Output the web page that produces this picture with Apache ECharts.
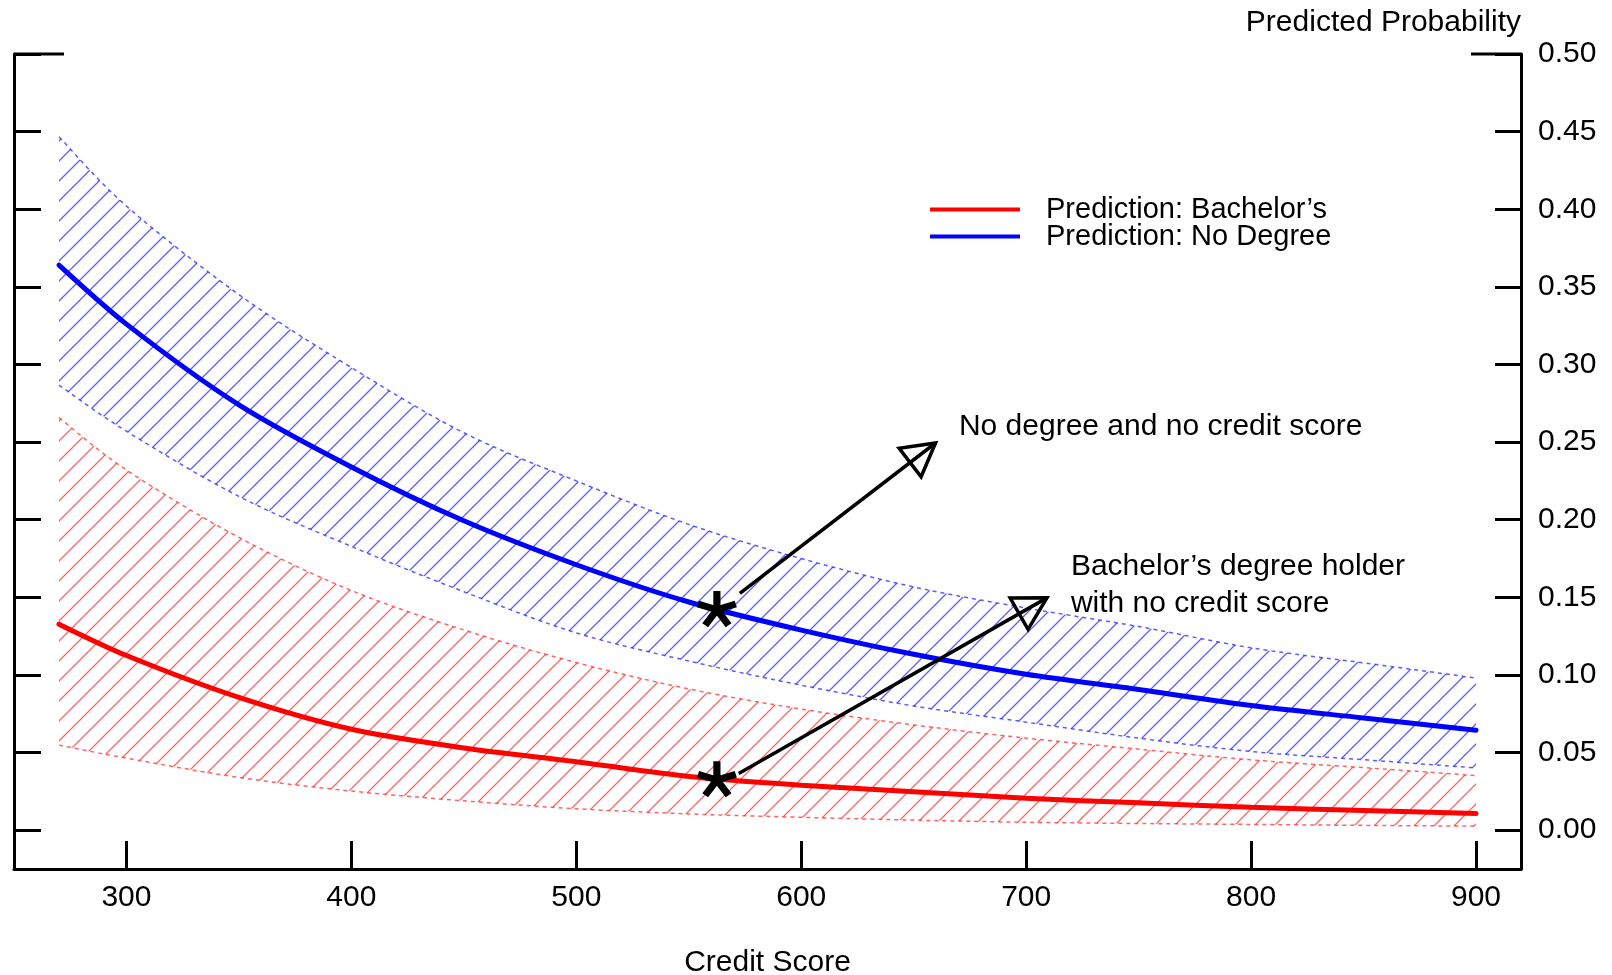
<!DOCTYPE html>
<html><head><meta charset="utf-8">
<script src="https://cdn.jsdelivr.net/npm/echarts@6/dist/echarts.min.js"></script>
<style>html,body{margin:0;padding:0;background:#fff}#c{width:1612px;height:975px}</style>
</head><body><div id="c"></div>
<script>
// ---------- data ----------
const creditScore      = [270, 300, 350, 400, 450, 500, 550, 600, 650, 700, 750, 800, 850, 900];
const noDegree         = [0.364, 0.326, 0.274, 0.234, 0.1993, 0.171, 0.147, 0.1289, 0.1133, 0.1004, 0.0906, 0.0803, 0.0723, 0.0644];
const noDegreeUpper    = [0.4467, 0.402, 0.345, 0.298, 0.256, 0.225, 0.197, 0.175, 0.1567, 0.1431, 0.1312, 0.1175, 0.1078, 0.098];
const noDegreeLower    = [0.2867, 0.257, 0.215, 0.1828, 0.1536, 0.1271, 0.109, 0.0934, 0.080, 0.0696, 0.0593, 0.0507, 0.0454, 0.0401];
const bachelors        = [0.1327, 0.1125, 0.0855, 0.065, 0.053, 0.0441, 0.0346, 0.029, 0.0248, 0.0206, 0.0176, 0.0147, 0.0127, 0.0107];
const bachelorsUpper   = [0.2658, 0.232, 0.1886, 0.1544, 0.129, 0.108, 0.091, 0.078, 0.0678, 0.0593, 0.0522, 0.0453, 0.0403, 0.0352];
const bachelorsLower   = [0.0548, 0.0464, 0.034, 0.0252, 0.0189, 0.0138, 0.0105, 0.0083, 0.0065, 0.0051, 0.0043, 0.0037, 0.0031, 0.0026];

const xTicks = [300, 400, 500, 600, 700, 800, 900];
const yTicks = [0, 0.05, 0.10, 0.15, 0.20, 0.25, 0.30, 0.35, 0.40, 0.45, 0.50];

const starX = [562.5, 562.5];
const starY = [0.1418, 0.0322];
const arrowFrom = [[572.7, 0.1525], [572.2, 0.0365]];
const arrowTo   = [[660.4, 0.2502], [710.0, 0.1503]];
const noteText = ['No degree and no credit score', 'Bachelor’s degree holder\nwith no credit score'];
const noteX = [670.1, 719.9];
const noteY = [0.260, 0.158];

const NAME_B = 'Prediction: Bachelor’s';
const NAME_N = 'Prediction: No Degree';
// ---------------------------

const FONT = '"Liberation Sans", Arial, Helvetica, sans-serif';
const BLUE_H = 'rgba(30,30,255,0.72)';
const RED_H = 'rgba(255,40,40,0.72)';

function hatch(color) {
  const S = 20;
  const c = document.createElement('canvas');
  c.width = S; c.height = S;
  const g = c.getContext('2d');
  g.strokeStyle = color; g.lineWidth = 1.3;
  g.beginPath();
  g.moveTo(0, S); g.lineTo(S, 0);
  g.moveTo(-3, 3); g.lineTo(3, -3);
  g.moveTo(S - 3, S + 3); g.lineTo(S + 3, S - 3);
  g.stroke();
  return c;
}
const HATCH = [hatch(BLUE_H), hatch(RED_H)];
const BANDS = [
  {upper: noDegreeUpper, lower: noDegreeLower, color: BLUE_H},
  {upper: bachelorsUpper, lower: bachelorsLower, color: RED_H}
];

function pts(arr) { return creditScore.map((c, i) => [c, arr[i]]); }

function spline(P) {
  const out = [], n = P.length, steps = 12;
  for (let i = 0; i < n - 1; i++) {
    const p0 = P[Math.max(i - 1, 0)], p1 = P[i], p2 = P[i + 1], p3 = P[Math.min(i + 2, n - 1)];
    for (let s = 0; s < steps; s++) {
      const t = s / steps, t2 = t * t, t3 = t2 * t;
      out.push([0, 1].map(k => 0.5 * (2 * p1[k] + (-p0[k] + p2[k]) * t +
        (2 * p0[k] - 5 * p1[k] + 4 * p2[k] - p3[k]) * t2 + (-p0[k] + 3 * p1[k] - 3 * p2[k] + p3[k]) * t3)));
    }
  }
  out.push(P[n - 1]);
  return out;
}

function asterisk() {
  const L = 18, w = 6.5; let d = '';
  for (let k = 0; k < 5; k++) {
    const a = (-90 + 72 * k) * Math.PI / 180;
    const ux = Math.cos(a), uy = Math.sin(a);
    const px = -uy * w / 2, py = ux * w / 2;
    const p = [[px, py], [ux * L + px, uy * L + py], [ux * L - px, uy * L - py], [-px, -py]];
    d += 'M ' + p.map(q => q[0].toFixed(2) + ' ' + q[1].toFixed(2)).join(' L ') + ' Z ';
  }
  return 'path://' + d;
}

const chart = echarts.init(document.getElementById('c'), null, {renderer: 'canvas'});

const option = {
  animation: false,
  backgroundColor: '#fff',
  textStyle: {fontFamily: FONT},
  grid: {left: 14, right: 91, top: 54, bottom: 106, containLabel: false, outerBoundsMode: 'none'},
  legend: {
    data: [NAME_B, NAME_N],
    orient: 'vertical', left: 930, top: 195, padding: 0,
    itemWidth: 90, itemHeight: 4, itemGap: -2, icon: 'rect',
    textStyle: {fontSize: 29, color: '#000', fontFamily: FONT, padding: [0, 0, 0, 21]},
    selectedMode: false
  },
  xAxis: {
    type: 'value', min: 250, max: 920, position: 'bottom',
    axisLine: {show: true, onZero: false, lineStyle: {color: '#000', width: 3}},
    axisTick: {show: true, inside: true, length: 28, lineStyle: {color: '#000', width: 3}, customValues: xTicks},
    axisLabel: {customValues: xTicks, fontSize: 30, color: '#000', margin: 14, fontFamily: FONT},
    splitLine: {show: false},
    name: 'Credit Score', nameLocation: 'middle', nameGap: 79,
    nameTextStyle: {fontSize: 30, color: '#000', fontFamily: FONT}
  },
  yAxis: [{
    type: 'value', min: -0.025, max: 0.5, position: 'right',
    axisLine: {show: true, onZero: false, lineStyle: {color: '#000', width: 3}},
    axisTick: {show: true, inside: true, length: 26, lineStyle: {color: '#000', width: 3}, customValues: yTicks},
    axisLabel: {customValues: yTicks, fontSize: 30, color: '#000', margin: 17, fontFamily: FONT,
      formatter: v => Number(v).toFixed(2)},
    splitLine: {show: false},
    name: 'Predicted Probability', nameLocation: 'end', nameGap: 31,
    nameTextStyle: {fontSize: 30, color: '#000', align: 'right', verticalAlign: 'middle', fontFamily: FONT}
  }, {
    type: 'value', min: -0.025, max: 0.5, position: 'left',
    axisLine: {show: true, onZero: false, lineStyle: {color: '#000', width: 3}},
    axisTick: {show: true, inside: true, length: 27, lineStyle: {color: '#000', width: 3}, customValues: yTicks},
    axisLabel: {show: false},
    splitLine: {show: false}
  }],
  series: [
    {name: 'bands', type: 'custom', z: 1, silent: true,
      data: BANDS.map((b, i) => [creditScore[0], b.upper[0], i]),
      renderItem: function (params, api) {
        const b = BANDS[api.value(2)];
        const up = spline(creditScore.map((c, i) => api.coord([c, b.upper[i]])));
        const lo = spline(creditScore.map((c, i) => api.coord([c, b.lower[i]])));
        const poly = up.concat(lo.slice().reverse());
        return {type: 'group', children: [
          {type: 'polygon', shape: {points: poly},
            style: {fill: {image: HATCH[api.value(2)], repeat: 'repeat'}, stroke: null}},
          {type: 'polyline', shape: {points: up}, style: {stroke: b.color, lineWidth: 1.5, lineDash: [4, 4], fill: null}},
          {type: 'polyline', shape: {points: lo}, style: {stroke: b.color, lineWidth: 1.5, lineDash: [4, 4], fill: null}}
        ]};
      }},
    {name: NAME_B, type: 'line', data: pts(bachelors), symbol: 'none', smooth: 0.3, color: '#ff0000',
      lineStyle: {color: '#ff0000', width: 5, cap: 'round'}, z: 3},
    {name: NAME_N, type: 'line', data: pts(noDegree), symbol: 'none', smooth: 0.3, color: '#0000ff',
      lineStyle: {color: '#0000ff', width: 5, cap: 'round'}, z: 3},
    {name: 'stars', type: 'scatter', data: starX.map((x, i) => [x, starY[i]]),
      symbol: asterisk(), symbolSize: [40, 38], symbolKeepAspect: true, symbolOffset: [0, -1],
      itemStyle: {color: '#000', opacity: 1}, z: 5, silent: true},
    {name: 'arrows', type: 'custom', clip: false, z: 6, silent: true,
      data: arrowFrom.map((f, i) => [f[0], f[1], arrowTo[i][0], arrowTo[i][1]]),
      encode: {x: [0, 2], y: [1, 3]},
      renderItem: function (params, api) {
        const p1 = api.coord([api.value(0), api.value(1)]);
        const p2 = api.coord([api.value(2), api.value(3)]);
        const dx = p2[0] - p1[0], dy = p2[1] - p1[1], L = Math.hypot(dx, dy);
        const ux = dx / L, uy = dy / L;
        const tip = [p2[0] - ux * 2, p2[1] - uy * 2];
        const headLen = 32, half = 18;
        const bx = tip[0] - ux * headLen, by = tip[1] - uy * headLen;
        const tri = [tip, [bx - uy * half, by + ux * half], [bx + uy * half, by - ux * half]];
        return {type: 'group', children: [
          {type: 'line', shape: {x1: p1[0], y1: p1[1], x2: tip[0], y2: tip[1]}, style: {stroke: '#000', lineWidth: 3.5}},
          {type: 'polygon', shape: {points: tri}, style: {stroke: '#000', fill: null, lineWidth: 3.5, lineJoin: 'miter'}}
        ]};
      }},
    {name: 'notes', type: 'custom', clip: false, z: 6, silent: true,
      data: noteX.map((x, i) => [x, noteY[i], i]),
      renderItem: function (params, api) {
        const p = api.coord([api.value(0), api.value(1)]);
        return {type: 'text', x: p[0], y: p[1], style: {
          text: noteText[api.value(2)], fill: '#000', font: '30px ' + FONT,
          align: 'left', verticalAlign: 'middle', lineHeight: 37}};
      }}
  ]
};
chart.setOption(option);

// longer top ticks at 0.50 on both sides (frame corners)
const pl = chart.convertToPixel({xAxisIndex: 0, yAxisIndex: 0}, [250, 0.5]);
const pr = chart.convertToPixel({xAxisIndex: 0, yAxisIndex: 0}, [920, 0.5]);
chart.setOption({graphic: [
  {type: 'line', shape: {x1: pl[0], y1: pl[1], x2: pl[0] + 50, y2: pl[1]}, style: {stroke: '#000', lineWidth: 3}, z: 10},
  {type: 'line', shape: {x1: pr[0] - 50, y1: pr[1], x2: pr[0], y2: pr[1]}, style: {stroke: '#000', lineWidth: 3}, z: 10}
]});
</script>
</body></html>
